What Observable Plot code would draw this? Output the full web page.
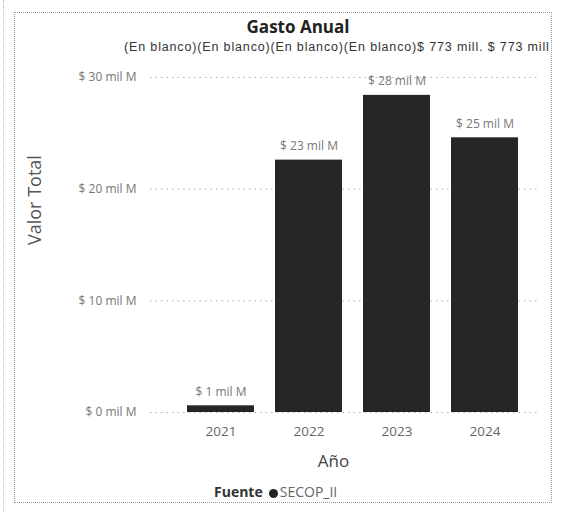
<!DOCTYPE html>
<html>
<head>
<meta charset="utf-8">
<script src="https://cdn.jsdelivr.net/npm/d3@7"></script>
<script src="https://cdn.jsdelivr.net/npm/@observablehq/plot@0.6"></script>
<style>
  body { margin: 0; background: #fff; }
  #wrap { position: relative; width: 563px; height: 512px; overflow: hidden; font-family: "Open Sans", sans-serif; }
  #frame { position: absolute; left: 14px; top: 12px; width: 536px; height: 489px; border: 1px dotted #999; }
  #leftline { position: absolute; left: 3px; top: 0; width: 0; height: 512px; border-left: 1px dotted #bbb; }
  #title { position: absolute; top: 15px; left: 198px; width: 200px; text-align: center; font-weight: 700; font-size: 17px; color: #222; }
  #blank { position: absolute; top: 40px; left: 124px; font-family: "Liberation Sans", Arial, sans-serif; font-size: 12.5px; color: #333; white-space: nowrap; letter-spacing: 0.85px; }
  #chart { position: absolute; top: 40px; left: 0; }
  #legend { position: absolute; top: 482px; left: 214px; font-size: 14px; color: #333; white-space: nowrap; }
  #legend b { color: #333; margin-right: 6px; }
  #legend .dot { display: inline-block; width: 9px; height: 9px; border-radius: 50%; background: #222; margin-right: 2px; vertical-align: -0.5px; }
  #legend .name { color: #666; }
</style>
</head>
<body>
<div id="wrap">
  <div id="leftline"></div>
  <div id="frame"></div>
  <div id="title">Gasto Anual</div>
  <div id="blank"></div>
  <div id="chart"></div>
  <div id="legend"><b>Fuente</b><span class="dot"></span><span class="name">SECOP_II</span></div>
</div>
<script>
const years = ["2021", "2022", "2023", "2024"];
const values = [0.6, 22.6, 28.4, 24.6];           // miles de millones
const valueLabels = ["$ 1 mil M", "$ 23 mil M", "$ 28 mil M", "$ 25 mil M"];
const yTicks = [0, 10, 20, 30];
const yTickLabels = ["$ 0 mil M", "$ 10 mil M", "$ 20 mil M", "$ 30 mil M"];
const blankLabels = ["(En blanco)", "(En blanco)", "(En blanco)", "(En blanco)", "$ 773 mill.", "$ 773 mill"];
const seriesName = "SECOP_II";

document.getElementById("blank").textContent = blankLabels.join("").replace("$ 773 mill.$", "$ 773 mill. $");

const data = years.map((y, i) => ({year: y, value: values[i], label: valueLabels[i]}));

const chart = Plot.plot({
  width: 563,
  height: 440,
  marginTop: 37,
  marginBottom: 68,
  marginLeft: 150,
  marginRight: 23,
  style: {fontFamily: "'Open Sans', sans-serif", background: "transparent"},
  x: {domain: years, padding: 0.24, insetLeft: 15, label: null},
  y: {domain: [0, 30], ticks: yTicks, label: null},
  marks: [
    Plot.gridY(yTicks, {stroke: "#999", strokeOpacity: 0.8, strokeDasharray: "1.5,4"}),
    Plot.axisY(yTicks, {
      tickSize: 0, tickPadding: 14, fontSize: 12, fill: "#777", label: null,
      tickFormat: (d) => yTickLabels[yTicks.indexOf(d)]
    }),
    Plot.axisX({tickSize: 0, tickPadding: 14, fontSize: 13.5, fill: "#666", label: null}),
    Plot.barY(data, {x: "year", y: "value", fill: "#262626"}),
    Plot.text(data, {x: "year", y: "value", text: "label", dy: -14, fontSize: 12, fill: "#777"}),
    Plot.text(["Valor Total"], {frameAnchor: "left", rotate: -90, dx: -115, fontSize: 18, fill: "#555"}),
    Plot.text(["Año"], {frameAnchor: "bottom", dy: 54, dx: -12, fontSize: 17, fill: "#444"})
  ]
});
document.getElementById("chart").appendChild(chart);
</script>
</body>
</html>
